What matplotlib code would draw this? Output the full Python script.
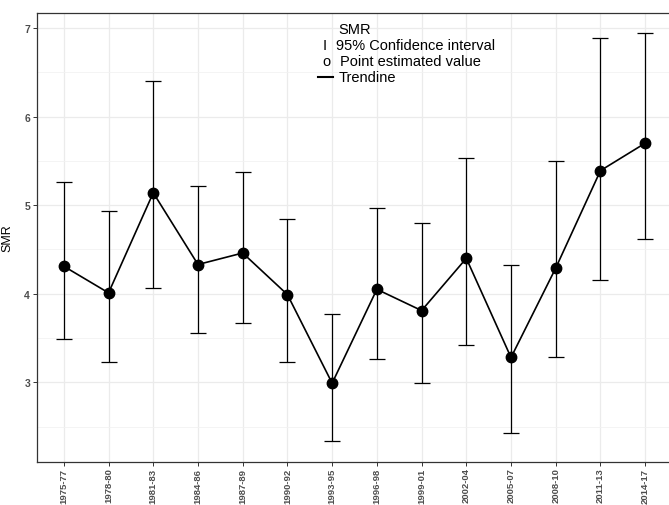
import matplotlib
matplotlib.use("Agg")
import matplotlib.pyplot as plt
from matplotlib.ticker import MultipleLocator

periods = ["1975-77", "1978-80", "1981-83", "1984-86", "1987-89", "1990-92", "1993-95",
           "1996-98", "1999-01", "2002-04", "2005-07", "2008-10", "2011-13", "2014-17"]
smr = [4.31, 4.01, 5.14, 4.33, 4.46, 3.99, 2.99, 4.05, 3.81, 4.40, 3.28, 4.29, 5.39, 5.70]
ci_low = [3.49, 3.23, 4.07, 3.56, 3.67, 3.23, 2.34, 3.26, 2.99, 3.42, 2.43, 3.29, 4.16, 4.62]
ci_high = [5.26, 4.93, 6.40, 5.22, 5.37, 4.84, 3.77, 4.97, 4.80, 5.53, 4.33, 5.50, 6.89, 6.94]

plt.rcParams["font.family"] = ["Liberation Sans", "DejaVu Sans"]

W, H = 669, 506
fig = plt.figure(figsize=(W / 100, H / 100), dpi=100)
ax = fig.add_axes([37 / W, 1 - 463 / H, 635 / W, 449 / H])

x = list(range(len(periods)))
err_lo = [s - l for s, l in zip(smr, ci_low)]
err_hi = [h - s for s, h in zip(smr, ci_high)]

ax.errorbar(x, smr, yerr=[err_lo, err_hi], fmt="none", ecolor="black",
            elinewidth=0.9, capsize=5.5, capthick=0.9, zorder=3)
ax.plot(x, smr, color="black", linewidth=1.2, marker="o", markersize=7.5, zorder=4)

ax.set_xlim(-0.6, len(periods) - 0.4)
ax.set_ylim(2.10, 7.17)
ax.set_xticks(x)
ax.set_xticklabels(periods, rotation=90, fontsize=6.8, fontweight="bold", color="#4d4d4d")
ax.yaxis.set_major_locator(MultipleLocator(1))
ax.yaxis.set_minor_locator(MultipleLocator(0.5))
for lab in ax.get_yticklabels():
    lab.set_fontweight("bold")
    lab.set_fontsize(7.5)
    lab.set_color("#4d4d4d")

ax.grid(True, which="major", color="#ebebeb", linewidth=0.9, zorder=0)
ax.grid(True, which="minor", axis="y", color="#f2f2f2", linewidth=0.6, zorder=0)
ax.set_axisbelow(True)
ax.tick_params(axis="both", which="major", length=3, color="#333333", width=0.7, pad=2)
ax.tick_params(axis="x", which="major", pad=1)
ax.tick_params(axis="y", which="minor", length=0)
for sp in ax.spines.values():
    sp.set_color("#333333")
    sp.set_linewidth(0.9)

ax.set_ylabel("SMR", fontsize=9, color="black", labelpad=8)

# legend drawn as text, as in the reference
def fx(px):
    return px / W

def fy(py):
    return 1 - py / H

fig.text(fx(338), fy(30), "SMR", fontsize=10.5, va="center", ha="left")
fig.text(fx(325), fy(46), "I", fontsize=10.5, va="center", ha="center")
fig.text(fx(336), fy(46), "95% Confidence interval", fontsize=10.5, va="center", ha="left")
fig.text(fx(326), fy(62), "o", fontsize=10.5, va="center", ha="center")
fig.text(fx(340), fy(62), "Point estimated value", fontsize=10.5, va="center", ha="left")
fig.add_artist(plt.Line2D([fx(318), fx(333)], [fy(78), fy(78)], color="black", linewidth=1.5))
fig.text(fx(339), fy(78), "Trendine", fontsize=10.5, va="center", ha="left")

fig.savefig("out.png", dpi=100)
